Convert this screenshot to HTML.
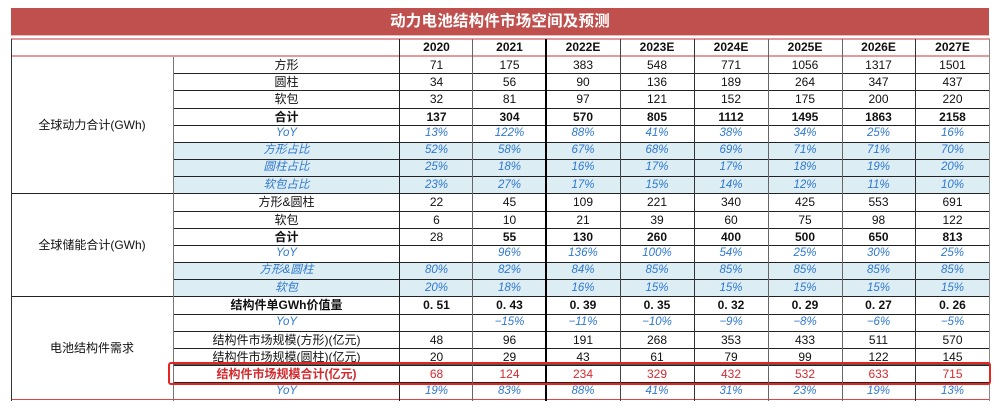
<!DOCTYPE html>
<html><head><meta charset="utf-8">
<style>
html,body{margin:0;padding:0;background:#fff;}
#w{position:relative;width:1000px;height:413px;overflow:hidden;background:#fff;font-family:"Liberation Sans","Noto Sans CJK SC",sans-serif;color:#111;}
.title{position:absolute;left:11px;top:8px;width:978px;height:27px;background:#C0504D;color:#fff;font-weight:bold;font-size:15.5px;line-height:27px;text-align:center;letter-spacing:0.2px;}
.abs{position:absolute;}
.g{position:absolute;left:11px;top:39px;width:979px;display:grid;grid-template-columns:162px 227px 73px 73px 74px 74px 74px 74px 73px 75px;grid-template-rows:18px repeat(20,17.18px);}
.g > div:not(.r), .r > div{display:flex;align-items:center;justify-content:center;box-sizing:border-box;border-bottom:1px solid #222;font-size:12px;white-space:nowrap;line-height:1;}
.r{display:contents;}
.h > div{border-bottom:2px solid #E39A9C !important;font-weight:bold;}
.grp{border-bottom:1px solid #222;}
.b > div{font-weight:bold;}
.b > div.n{font-weight:normal;}
.y > div{color:#2F78CF;font-style:italic;font-size:11.5px !important;}
.bg > div{background:#DCEDF3;}
.red > div{color:#D42A2E;}
.red > div.lb{font-weight:bold;}
.last > div, .g > div.lastg{border-bottom:1.5px solid #E04545 !important;}
</style></head><body>
<div id="w">
<div class="title">动力电池结构件市场空间及预测</div>
<div class="abs" style="left:11px;top:35px;width:978px;height:1px;background:#E9B9B8;"></div>
<div class="abs" style="left:11px;top:38px;width:979px;height:1.5px;background:#E39A9C;"></div>

<div class="g">
  <div class="r h">
    <div style="grid-column:1 / span 2;"></div>
    <div>2020</div><div>2021</div><div>2022E</div><div>2023E</div><div>2024E</div><div>2025E</div><div>2026E</div><div>2027E</div>
  </div>
  <div class="grp" style="grid-column:1;grid-row:2 / span 8;">全球动力合计(GWh)</div>
  <div class="grp" style="grid-column:1;grid-row:10 / span 6;">全球储能合计(GWh)</div>
  <div class="grp lastg" style="grid-column:1;grid-row:16 / span 6;">电池结构件需求</div>

  <div class="r"><div>方形</div><div>71</div><div>175</div><div>383</div><div>548</div><div>771</div><div>1056</div><div>1317</div><div>1501</div></div>
  <div class="r"><div>圆柱</div><div>34</div><div>56</div><div>90</div><div>136</div><div>189</div><div>264</div><div>347</div><div>437</div></div>
  <div class="r"><div>软包</div><div>32</div><div>81</div><div>97</div><div>121</div><div>152</div><div>175</div><div>200</div><div>220</div></div>
  <div class="r b"><div>合计</div><div>137</div><div>304</div><div>570</div><div>805</div><div>1112</div><div>1495</div><div>1863</div><div>2158</div></div>
  <div class="r y"><div>YoY</div><div>13%</div><div>122%</div><div>88%</div><div>41%</div><div>38%</div><div>34%</div><div>25%</div><div>16%</div></div>
  <div class="r y bg"><div>方形占比</div><div>52%</div><div>58%</div><div>67%</div><div>68%</div><div>69%</div><div>71%</div><div>71%</div><div>70%</div></div>
  <div class="r y bg"><div>圆柱占比</div><div>25%</div><div>18%</div><div>16%</div><div>17%</div><div>17%</div><div>18%</div><div>19%</div><div>20%</div></div>
  <div class="r y bg"><div>软包占比</div><div>23%</div><div>27%</div><div>17%</div><div>15%</div><div>14%</div><div>12%</div><div>11%</div><div>10%</div></div>

  <div class="r"><div>方形&amp;圆柱</div><div>22</div><div>45</div><div>109</div><div>221</div><div>340</div><div>425</div><div>553</div><div>691</div></div>
  <div class="r"><div>软包</div><div>6</div><div>10</div><div>21</div><div>39</div><div>60</div><div>75</div><div>98</div><div>122</div></div>
  <div class="r b"><div>合计</div><div class="n">28</div><div>55</div><div>130</div><div>260</div><div>400</div><div>500</div><div>650</div><div>813</div></div>
  <div class="r y"><div>YoY</div><div></div><div>96%</div><div>136%</div><div>100%</div><div>54%</div><div>25%</div><div>30%</div><div>25%</div></div>
  <div class="r y bg"><div>方形&amp;圆柱</div><div>80%</div><div>82%</div><div>84%</div><div>85%</div><div>85%</div><div>85%</div><div>85%</div><div>85%</div></div>
  <div class="r y bg"><div>软包</div><div>20%</div><div>18%</div><div>16%</div><div>15%</div><div>15%</div><div>15%</div><div>15%</div><div>15%</div></div>

  <div class="r b"><div>结构件单GWh价值量</div><div>0. 51</div><div>0. 43</div><div>0. 39</div><div>0. 35</div><div>0. 32</div><div>0. 29</div><div>0. 27</div><div>0. 26</div></div>
  <div class="r y"><div>YoY</div><div></div><div>−15%</div><div>−11%</div><div>−10%</div><div>−9%</div><div>−8%</div><div>−6%</div><div>−5%</div></div>
  <div class="r"><div>结构件市场规模(方形)(亿元)</div><div>48</div><div>96</div><div>191</div><div>268</div><div>353</div><div>433</div><div>511</div><div>570</div></div>
  <div class="r"><div>结构件市场规模(圆柱)(亿元)</div><div>20</div><div>29</div><div>43</div><div>61</div><div>79</div><div>99</div><div>122</div><div>145</div></div>
  <div class="r red"><div class="lb">结构件市场规模合计(亿元)</div><div>68</div><div>124</div><div>234</div><div>329</div><div>432</div><div>532</div><div>633</div><div>715</div></div>
  <div class="r y last"><div>YoY</div><div>19%</div><div>83%</div><div>88%</div><div>41%</div><div>31%</div><div>23%</div><div>19%</div><div>13%</div></div>
</div>

<!-- vertical lines -->
<div class="abs" style="left:11px;top:39px;width:1px;height:362px;background:#333;"></div>
<div class="abs" style="left:173px;top:57px;width:1px;height:344px;background:#777;"></div>
<div class="abs" style="left:399px;top:39px;width:1px;height:362px;background:#222;"></div>
<div class="abs" style="left:472px;top:39px;width:1px;height:362px;background:#666;"></div>
<div class="abs" style="left:545px;top:39px;width:2px;height:362px;background:#000;"></div>
<div class="abs" style="left:620px;top:39px;width:1px;height:362px;background:#444;"></div>
<div class="abs" style="left:694px;top:39px;width:1px;height:362px;background:#333;"></div>
<div class="abs" style="left:768px;top:39px;width:1px;height:362px;background:#666;"></div>
<div class="abs" style="left:842px;top:39px;width:1px;height:362px;background:#666;"></div>
<div class="abs" style="left:915px;top:39px;width:1px;height:362px;background:#333;"></div>
<div class="abs" style="left:989px;top:39px;width:1px;height:362px;background:#888;"></div>

<!-- double line -->
<div class="abs" style="left:173px;top:364px;width:817px;height:1px;background:#555;"></div>

<!-- red highlight box -->
<div class="abs" style="left:168px;top:362px;width:823px;height:23px;border:2px solid #E5261F;border-radius:3px;box-sizing:border-box;"></div>
</div>
</body></html>
